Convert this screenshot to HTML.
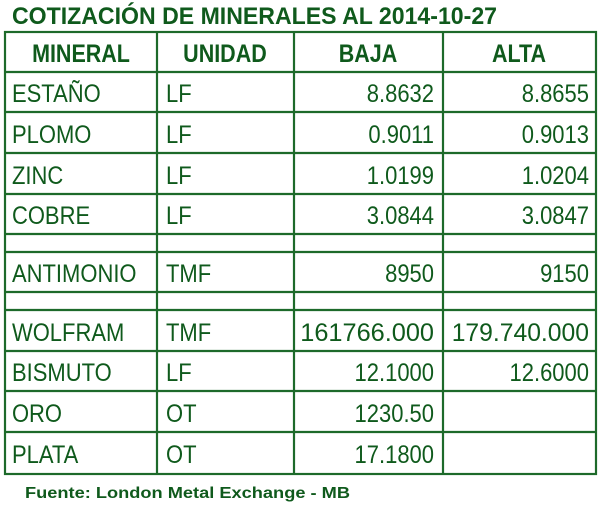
<!DOCTYPE html>
<html><head><meta charset="utf-8"><style>
html,body{margin:0;padding:0;background:#fff;width:600px;height:505px;overflow:hidden}
svg{display:block}
text{font-family:"Liberation Sans",sans-serif;fill:#0f5a1c}
</style></head><body>
<svg width="600" height="505" viewBox="0 0 600 505">
<text x="12" y="24" font-size="24" font-weight="bold" textLength="485" lengthAdjust="spacingAndGlyphs">COTIZACIÓN DE MINERALES AL 2014-10-27</text>
<g stroke="#1d6a2a" stroke-width="2.2" fill="none">
<rect x="5" y="32" width="591" height="442"/>
<line x1="157" y1="32" x2="157" y2="474"/>
<line x1="294" y1="32" x2="294" y2="474"/>
<line x1="443" y1="32" x2="443" y2="474"/>
<line x1="5" y1="72" x2="596" y2="72"/>
<line x1="5" y1="112" x2="596" y2="112"/>
<line x1="5" y1="153" x2="596" y2="153"/>
<line x1="5" y1="194" x2="596" y2="194"/>
<line x1="5" y1="234" x2="596" y2="234"/>
<line x1="5" y1="252" x2="596" y2="252"/>
<line x1="5" y1="292" x2="596" y2="292"/>
<line x1="5" y1="310" x2="596" y2="310"/>
<line x1="5" y1="351" x2="596" y2="351"/>
<line x1="5" y1="391" x2="596" y2="391"/>
<line x1="5" y1="432" x2="596" y2="432"/>
</g>
<g font-size="25" font-weight="bold" text-anchor="middle" transform="scale(0.86 1)">
<text x="94.2" y="62">MINERAL</text>
<text x="261.6" y="62">UNIDAD</text>
<text x="427.9" y="62">BAJA</text>
<text x="603.5" y="62">ALTA</text>
</g>
<g font-size="25" transform="scale(0.88 1)">
<text x="13.6" y="102">ESTAÑO</text><text x="188.6" y="102">LF</text>
<text x="13.6" y="143">PLOMO</text><text x="188.6" y="143">LF</text>
<text x="13.6" y="184">ZINC</text><text x="188.6" y="184">LF</text>
<text x="13.6" y="224">COBRE</text><text x="188.6" y="224">LF</text>
<text x="13.6" y="282">ANTIMONIO</text><text x="188.6" y="282">TMF</text>
<text x="13.6" y="341">WOLFRAM</text><text x="188.6" y="341">TMF</text>
<text x="13.6" y="381">BISMUTO</text><text x="188.6" y="381">LF</text>
<text x="13.6" y="422">ORO</text><text x="188.6" y="422">OT</text>
<text x="13.6" y="463">PLATA</text><text x="188.6" y="463">OT</text>
</g>
<g font-size="25" text-anchor="end" transform="scale(0.88 1)">
<text x="493.2" y="102">8.8632</text><text x="669.3" y="102">8.8655</text>
<text x="493.2" y="143">0.9011</text><text x="669.3" y="143">0.9013</text>
<text x="493.2" y="184">1.0199</text><text x="669.3" y="184">1.0204</text>
<text x="493.2" y="224">3.0844</text><text x="669.3" y="224">3.0847</text>
<text x="493.2" y="282">8950</text><text x="669.3" y="282">9150</text>
<text x="493.2" y="341" textLength="152" lengthAdjust="spacingAndGlyphs">161766.000</text><text x="669.3" y="341" textLength="156" lengthAdjust="spacingAndGlyphs">179.740.000</text>
<text x="493.2" y="381">12.1000</text><text x="669.3" y="381">12.6000</text>
<text x="493.2" y="422">1230.50</text>
<text x="493.2" y="463">17.1800</text>
</g>
<text x="25" y="498" font-size="16" font-weight="bold" textLength="325" lengthAdjust="spacingAndGlyphs">Fuente: London Metal Exchange - MB</text>
</svg>
</body></html>
